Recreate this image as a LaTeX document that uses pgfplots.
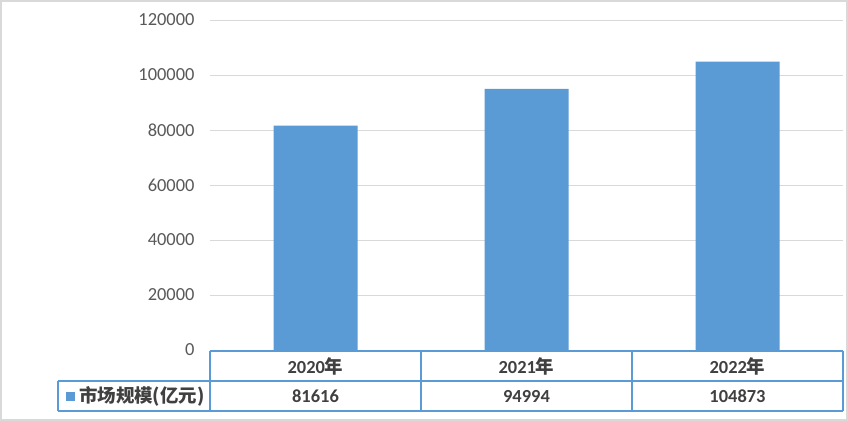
\documentclass[border=0pt]{standalone}
\usepackage{pgfplots}
\pgfplotsset{compat=1.18}
\usepackage{fontspec}
\setmainfont{Carlito}
\newfontfamily\cjk{Noto Sans CJK SC}
\definecolor{barc}{HTML}{5B9BD5}
\definecolor{tickc}{HTML}{595959}
\definecolor{gridc}{HTML}{D9D9D9}
\definecolor{tabc}{HTML}{404040}
\begin{document}
\begin{tikzpicture}
\draw[gridc, line width=2bp, fill=white] (1bp,-1bp) rectangle (847bp,-420bp);
\begin{axis}[
  at={(210bp,-350bp)}, anchor=south west,
  scale only axis, width=633bp, height=330bp,
  xmin=0, xmax=3, ymin=0, ymax=120000,
  ytick distance=20000, xtick=\empty,
  ymajorgrids, grid style={gridc, line width=1bp},
  axis line style={draw=none},
  major tick length=0,
  scaled y ticks=false,
  /pgf/number format/assume math mode=true,
  yticklabel style={/pgf/number format/fixed, /pgf/number format/1000 sep={}, font=\fontsize{18.5}{20}\selectfont, text=tickc, xshift=-12bp},
  ybar, bar width=84bp,
  clip=false,
]
\addplot[fill=barc, draw=none] coordinates {(0.5,81616) (1.5,94994) (2.5,104873)};
\end{axis}
% data table
\begin{scope}[barc, line width=2bp]
\draw (210bp,-351bp) -- (843bp,-351bp);
\draw (58bp,-381bp) -- (843bp,-381bp);
\draw (58bp,-411bp) -- (843bp,-411bp);
\draw (58bp,-381bp) -- (58bp,-411bp);
\draw (210bp,-351bp) -- (210bp,-411bp);
\draw (421bp,-351bp) -- (421bp,-411bp);
\draw (632bp,-351bp) -- (632bp,-411bp);
\draw (843bp,-351bp) -- (843bp,-411bp);
\end{scope}
\fill[barc] (66bp,-392bp) rectangle (75bp,-401bp);
\begin{scope}[every node/.style={text=tabc, font=\fontsize{18.5}{20}\selectfont\bfseries, inner sep=0pt}]
\node at (315.5bp,-366bp) {2020\cjk 年};
\node at (526.5bp,-366bp) {2021\cjk 年};
\node at (737.5bp,-366bp) {2022\cjk 年};
\node at (315.5bp,-396bp) {81616};
\node at (526.5bp,-396bp) {94994};
\node at (737.5bp,-396bp) {104873};
\node[anchor=west] at (79bp,-396bp) {\cjk 市场规模(亿元)};
\end{scope}
\end{tikzpicture}
\end{document}
